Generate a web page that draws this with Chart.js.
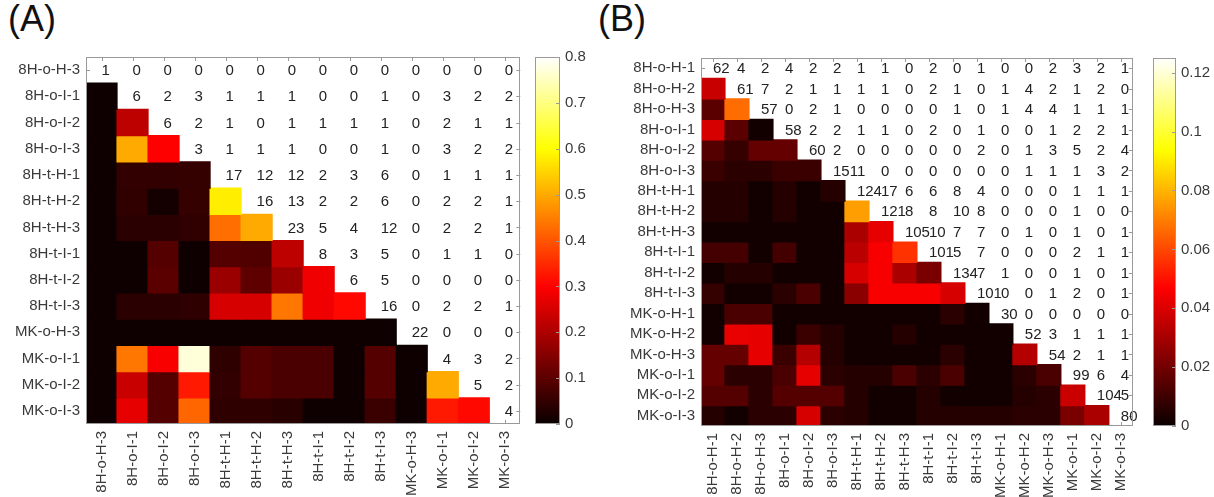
<!DOCTYPE html>
<html>
<head>
<meta charset="utf-8">
<script src="https://cdn.jsdelivr.net/npm/chart.js@4.4.1/dist/chart.umd.min.js"></script>
<style>
  body { margin: 0; background: #fff; width: 1214px; height: 497px; position: relative; overflow: hidden; font-family: 'Liberation Sans', Arial, sans-serif; }
  canvas { position: absolute; top: 0; }
  .tag { position: absolute; top: -2px; font-size: 36px; color: #111; }
</style>
</head>
<body>
<div class="tag" style="left:8px">(A)</div>
<div class="tag" style="left:598px">(B)</div>
<canvas id="heatA" width="530" height="497" style="left:0"></canvas>
<canvas id="barA" width="70" height="497" style="left:530px"></canvas>
<canvas id="heatB" width="546" height="497" style="left:600px"></canvas>
<canvas id="barB" width="66" height="497" style="left:1148px"></canvas>
<script>
// panel A
var labelsA = ['8H-o-H-3', '8H-o-I-1', '8H-o-I-2', '8H-o-I-3', '8H-t-H-1', '8H-t-H-2', '8H-t-H-3',
  '8H-t-I-1', '8H-t-I-2', '8H-t-I-3', 'MK-o-H-3', 'MK-o-I-1', 'MK-o-I-2', 'MK-o-I-3'];
// counts on the diagonal and above, one row each (starting at the diagonal)
var countsA = [
  [1, 0, 0, 0, 0, 0, 0, 0, 0, 0, 0, 0, 0, 0],
  [6, 2, 3, 1, 1, 1, 0, 0, 1, 0, 3, 2, 2],
  [6, 2, 1, 0, 1, 1, 1, 1, 0, 2, 1, 1],
  [3, 1, 1, 1, 0, 0, 1, 0, 3, 2, 2],
  [17, 12, 12, 2, 3, 6, 0, 1, 1, 1],
  [16, 13, 2, 2, 6, 0, 2, 2, 1],
  [23, 5, 4, 12, 0, 2, 2, 1],
  [8, 3, 5, 0, 1, 1, 0],
  [6, 5, 0, 0, 0, 0],
  [16, 0, 2, 2, 1],
  [22, 0, 0, 0],
  [4, 3, 2],
  [5, 2],
  [4]
];
// similarity below the diagonal, one row each (columns 0..row-1)
var shareA = [
  [],
  [0.005],
  [0.005, 0.21],
  [0.005, 0.5, 0.29],
  [0.005, 0.047, 0.047, 0.05],
  [0.005, 0.045, 0.012, 0.05, 0.58],
  [0.005, 0.038, 0.038, 0.045, 0.43, 0.5],
  [0.005, 0.005, 0.087, 0.005, 0.087, 0.083, 0.21],
  [0.005, 0.005, 0.094, 0.005, 0.17, 0.1, 0.17, 0.27],
  [0.005, 0.038, 0.038, 0.042, 0.24, 0.24, 0.44, 0.27, 0.31],
  [0.005, 0.005, 0.005, 0.005, 0.005, 0.005, 0.005, 0.005, 0.005, 0.005],
  [0.005, 0.44, 0.28, 0.77, 0.042, 0.087, 0.075, 0.075, 0.005, 0.087, 0.005],
  [0.005, 0.225, 0.087, 0.33, 0.047, 0.087, 0.075, 0.075, 0.005, 0.087, 0.005, 0.5],
  [0.005, 0.26, 0.087, 0.42, 0.042, 0.042, 0.035, 0.005, 0.005, 0.056, 0.005, 0.33, 0.31]
];
var maxA = 0.8;
var ticksA = [0, 0.1, 0.2, 0.3, 0.4, 0.5, 0.6, 0.7, 0.8];

// panel B
var labelsB = ['8H-o-H-1', '8H-o-H-2', '8H-o-H-3', '8H-o-I-1', '8H-o-I-2', '8H-o-I-3', '8H-t-H-1', '8H-t-H-2', '8H-t-H-3',
  '8H-t-I-1', '8H-t-I-2', '8H-t-I-3', 'MK-o-H-1', 'MK-o-H-2', 'MK-o-H-3', 'MK-o-I-1', 'MK-o-I-2', 'MK-o-I-3'];
var countsB = [
  [62, 4, 2, 4, 2, 2, 1, 1, 0, 2, 0, 1, 0, 0, 2, 3, 2, 1],
  [61, 7, 2, 1, 1, 1, 1, 0, 2, 1, 0, 1, 4, 2, 1, 2, 0],
  [57, 0, 2, 1, 0, 0, 0, 0, 1, 0, 1, 4, 4, 1, 1, 1],
  [58, 2, 2, 1, 1, 0, 2, 0, 1, 0, 0, 1, 2, 2, 1],
  [60, 2, 0, 0, 0, 0, 0, 2, 0, 1, 3, 5, 2, 4],
  [151, 1, 0, 0, 0, 0, 0, 0, 1, 1, 1, 3, 2],
  [124, 17, 6, 6, 8, 4, 0, 0, 0, 1, 1, 1],
  [121, 8, 8, 10, 8, 0, 0, 0, 1, 0, 0],
  [105, 10, 7, 7, 0, 1, 0, 1, 0, 1],
  [101, 5, 7, 0, 0, 0, 2, 1, 1],
  [134, 7, 1, 0, 0, 1, 0, 1],
  [101, 0, 0, 1, 2, 0, 1],
  [30, 0, 0, 0, 0, 0],
  [52, 3, 1, 1, 1],
  [54, 2, 1, 1],
  [99, 6, 4],
  [104, 5],
  [80]
];
var shareB = [
  [],
  [0.035],
  [0.0147, 0.067],
  [0.0375, 0.0147, 0.0015],
  [0.0136, 0.0077, 0.0165, 0.0165],
  [0.0088, 0.006, 0.006, 0.0088, 0.0088],
  [0.0048, 0.0048, 0.0015, 0.0048, 0.0015, 0.0048],
  [0.0048, 0.0048, 0.0015, 0.0048, 0.0015, 0.0015, 0.076],
  [0.0015, 0.0015, 0.0015, 0.0015, 0.0015, 0.0015, 0.0294, 0.0406],
  [0.0107, 0.0107, 0.0015, 0.0107, 0.0015, 0.0015, 0.0324, 0.0437, 0.056],
  [0.0015, 0.0048, 0.0048, 0.0015, 0.0015, 0.0015, 0.0375, 0.0437, 0.0294, 0.0206],
  [0.0077, 0.0015, 0.0015, 0.006, 0.0118, 0.0015, 0.0235, 0.0437, 0.0437, 0.0437, 0.0375],
  [0.0015, 0.0118, 0.0118, 0.0015, 0.0015, 0.0015, 0.0015, 0.0015, 0.0015, 0.0015, 0.006, 0.0015],
  [0.0015, 0.041, 0.0406, 0.0015, 0.0088, 0.0048, 0.0015, 0.0015, 0.0048, 0.0015, 0.0015, 0.0015, 0.0015],
  [0.0165, 0.0165, 0.0406, 0.0088, 0.0313, 0.0048, 0.0015, 0.0015, 0.0015, 0.0015, 0.006, 0.0015, 0.0015, 0.0313],
  [0.0165, 0.006, 0.006, 0.0118, 0.0406, 0.006, 0.0048, 0.0048, 0.0118, 0.006, 0.0118, 0.0015, 0.0015, 0.006, 0.0118],
  [0.0136, 0.0136, 0.006, 0.0136, 0.0136, 0.0136, 0.0048, 0.0015, 0.0015, 0.0048, 0.0015, 0.0015, 0.0015, 0.0048, 0.006, 0.0352],
  [0.0048, 0.0015, 0.006, 0.006, 0.0375, 0.006, 0.0048, 0.0015, 0.0015, 0.0048, 0.0048, 0.0048, 0.0048, 0.006, 0.006, 0.0206, 0.0294]
];
var maxB = 0.125;
var ticksB = [0, 0.02, 0.04, 0.06, 0.08, 0.1, 0.12];

var FONT = "'Liberation Sans', Arial, sans-serif";
var TEXT = '#3a3a3a';
var LINE = '#9a9a9a';

// matlab "hot" colormap
function hot(v, max) {
  var t = Math.min(Math.max(v / max, 0), 1);
  var r = Math.min(1, 0.04 + t / 0.375);
  var g = Math.min(1, Math.max(0, (t - 0.375) / 0.375));
  var b = Math.max(0, (t - 0.75) / 0.25);
  return 'rgb(' + Math.round(r * 255) + ',' + Math.round(g * 255) + ',' + Math.round(b * 255) + ')';
}

// ticks + box + numbers of the upper triangle
function cellPlugin(counts) {
  return {
    id: 'cells',
    beforeDatasetsDraw: function (chart) {
      var ctx = chart.ctx, a = chart.chartArea, xs = chart.scales.x, ys = chart.scales.y;
      ctx.save();
      ctx.strokeStyle = LINE;
      ctx.lineWidth = 1;
      ctx.beginPath();
      for (var k = 0; k < counts.length; k++) {
        var x = Math.round(xs.getPixelForValue(k)) + 0.5;
        var y = Math.round(ys.getPixelForValue(k)) + 0.5;
        ctx.moveTo(x, a.top); ctx.lineTo(x, a.top + 4);
        ctx.moveTo(x, a.bottom); ctx.lineTo(x, a.bottom - 4);
        ctx.moveTo(a.left, y); ctx.lineTo(a.left + 4, y);
        ctx.moveTo(a.right, y); ctx.lineTo(a.right - 4, y);
      }
      ctx.stroke();
      ctx.restore();
    },
    afterDatasetsDraw: function (chart) {
      var ctx = chart.ctx, a = chart.chartArea, xs = chart.scales.x, ys = chart.scales.y;
      ctx.save();
      ctx.font = '15px ' + FONT;
      ctx.fillStyle = '#222';
      ctx.textAlign = 'left';
      ctx.textBaseline = 'middle';
      counts.forEach(function (row, i) {
        row.forEach(function (v, k) {
          ctx.fillText(String(v), xs.getPixelForValue(i + k), ys.getPixelForValue(i) + 1);
        });
      });
      ctx.strokeStyle = LINE;
      ctx.strokeRect(Math.round(a.left) + 0.5, Math.round(a.top) + 0.5, Math.round(a.right - a.left) - 1, Math.round(a.bottom - a.top) - 1);
      ctx.restore();
    }
  };
}

function heatmap(id, labels, counts, share, max, pad, yWidth, xHeight) {
  var datasets = share.map(function (row, i) {
    return {
      data: row.map(function (v, j) { return { x: labels[j], y: [i - 0.5, i + 0.5] }; }),
      backgroundColor: row.map(function (v) { return hot(v, max); }),
      grouped: false,
      barPercentage: 1,
      categoryPercentage: 1,
      borderWidth: 0,
      inflateAmount: 0.6
    };
  });
  return new Chart(document.getElementById(id), {
    type: 'bar',
    data: { labels: labels, datasets: datasets },
    options: {
      responsive: false,
      animation: false,
      layout: { padding: pad },
      plugins: { legend: { display: false }, tooltip: { enabled: false } },
      scales: {
        x: {
          type: 'category',
          grid: { display: false, drawTicks: false },
          border: { display: false },
          ticks: { autoSkip: false, minRotation: 90, maxRotation: 90, padding: 7, color: TEXT, font: { family: FONT, size: 15 } },
          afterFit: function (s) { s.height = xHeight; }
        },
        y: {
          type: 'linear',
          reverse: true,
          min: -0.5,
          max: labels.length - 0.5,
          grid: { display: false, drawTicks: false },
          border: { display: false },
          afterBuildTicks: function (s) { s.ticks = labels.map(function (l, i) { return { value: i }; }); },
          ticks: { autoSkip: false, padding: 6, color: TEXT, font: { family: FONT, size: 15 },
            callback: function (v) { return labels[v]; } },
          afterFit: function (s) { s.width = yWidth; }
        }
      }
    },
    plugins: [cellPlugin(counts)]
  });
}

var barFrame = {
  id: 'barFrame',
  afterDatasetsDraw: function (chart) {
    var ctx = chart.ctx, a = chart.chartArea, ys = chart.scales.y;
    ctx.save();
    ctx.strokeStyle = LINE;
    ctx.beginPath();
    ys.ticks.forEach(function (t) {
      var y = Math.round(ys.getPixelForValue(t.value)) + 0.5;
      ctx.moveTo(a.right, y); ctx.lineTo(a.right - 4, y);
    });
    ctx.stroke();
    ctx.strokeRect(Math.round(a.left) + 0.5, Math.round(a.top) + 0.5, Math.round(a.right - a.left) - 1, Math.round(a.bottom - a.top) - 1);
    ctx.restore();
  }
};

function colorbar(id, max, ticks, pad, yWidth) {
  return new Chart(document.getElementById(id), {
    type: 'bar',
    data: {
      labels: [''],
      datasets: [{
        data: [[0, max]],
        backgroundColor: function (c) {
          var a = c.chart.chartArea;
          if (!a) return '#000';
          var g = c.chart.ctx.createLinearGradient(0, a.bottom, 0, a.top);
          g.addColorStop(0, '#0a0000');
          g.addColorStop(0.375, '#ff0000');
          g.addColorStop(0.75, '#ffff00');
          g.addColorStop(1, '#ffffff');
          return g;
        },
        barPercentage: 1,
        categoryPercentage: 1,
        borderWidth: 0
      }]
    },
    options: {
      responsive: false,
      animation: false,
      layout: { padding: pad },
      plugins: { legend: { display: false }, tooltip: { enabled: false } },
      scales: {
        x: { display: false },
        y: {
          position: 'right',
          min: 0,
          max: max,
          grid: { display: false, drawTicks: false },
          border: { display: false },
          afterBuildTicks: function (s) { s.ticks = ticks.map(function (v) { return { value: v }; }); },
          ticks: { padding: 5, color: TEXT, font: { family: FONT, size: 15 },
            callback: function (v) { return String(Math.round(v * 1000) / 1000); } },
          afterFit: function (s) { s.width = yWidth; }
        }
      }
    },
    plugins: [barFrame]
  });
}

heatmap('heatA', labelsA, countsA, shareA, maxA, { top: 57, right: 6, left: 0, bottom: 0 }, 86, 73);
colorbar('barA', maxA, ticksA, { top: 57, bottom: 73, left: 5, right: 0 }, 40);
heatmap('heatB', labelsB, countsB, shareB, maxB, { top: 58, right: 6, left: 0, bottom: 0 }, 101, 71);
colorbar('barB', maxB, ticksB, { top: 58, bottom: 71, left: 5, right: 0 }, 38);
</script>
</body>
</html>
